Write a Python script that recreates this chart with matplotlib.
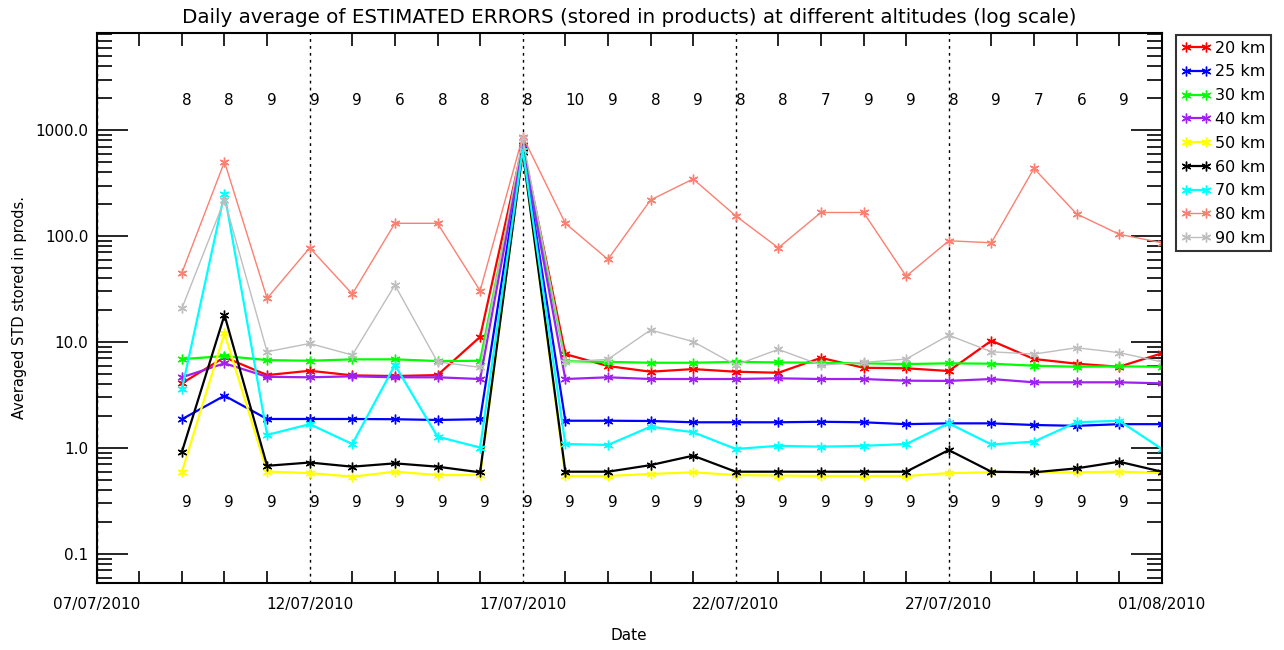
import datetime as dt
import numpy as np
import matplotlib
matplotlib.use('Agg')
import matplotlib.pyplot as plt
import matplotlib.dates as mdates
import matplotlib.ticker as mticker
import matplotlib.transforms as mtransforms

# daily points, 09/07/2010 .. 01/08/2010
dates = [dt.datetime(2010, 7, 9) + dt.timedelta(days=i) for i in range(24)]

km20 = [4.08, 7.2, 4.88, 5.36, 4.85, 4.78, 4.88, 11.2, 720, 7.7, 5.94, 5.25,
        5.56, 5.25, 5.13, 7.1, 5.72, 5.66, 5.33, 10.3, 6.92, 6.25, 5.85, 7.82]
km25 = [1.87, 3.12, 1.88, 1.88, 1.88, 1.87, 1.84, 1.87, 680, 1.81, 1.81, 1.8,
        1.75, 1.75, 1.75, 1.77, 1.75, 1.68, 1.71, 1.71, 1.65, 1.62, 1.68, 1.68]
km30 = [6.9, 7.38, 6.76, 6.66, 6.87, 6.87, 6.62, 6.66, 700, 6.6, 6.5, 6.38,
        6.38, 6.5, 6.42, 6.38, 6.3, 6.2, 6.3, 6.25, 5.98, 5.85, 5.9, 5.85]
km40 = [4.65, 6.3, 4.7, 4.65, 4.75, 4.65, 4.65, 4.48, 690, 4.48, 4.65, 4.48,
        4.48, 4.48, 4.55, 4.48, 4.48, 4.32, 4.3, 4.48, 4.17, 4.17, 4.17, 4.08]
km50 = [0.594, 12.1, 0.60, 0.58, 0.537, 0.598, 0.556, 0.556, 640, 0.545, 0.545, 0.569,
        0.59, 0.556, 0.55, 0.545, 0.545, 0.545, 0.58, 0.59, 0.59, 0.59, 0.6, 0.58]
km60 = [0.92, 18.0, 0.68, 0.73, 0.667, 0.717, 0.667, 0.59, 620, 0.598, 0.598, 0.69,
        0.847, 0.598, 0.598, 0.598, 0.598, 0.598, 0.957, 0.598, 0.59, 0.643, 0.743, 0.598]
km70 = [3.58, 252, 1.33, 1.68, 1.09, 6.07, 1.28, 1.01, 650, 1.09, 1.07, 1.59,
        1.41, 0.98, 1.05, 1.03, 1.05, 1.09, 1.71, 1.08, 1.15, 1.75, 1.81, 0.98]
km80 = [45, 503, 25.8, 77.5, 28.4, 132, 132, 30.5, 870, 132, 60.3, 219,
        346, 155, 77.5, 167, 167, 41.8, 90.3, 86.5, 435, 162, 104, 86.5]
km90 = [20.8, 219, 8.1, 9.7, 7.54, 34.5, 6.5, 5.77, 840, 6.5, 6.87, 13.0,
        10.1, 6.07, 8.53, 6.07, 6.42, 6.92, 11.6, 8.1, 7.7, 8.84, 7.94, 6.5]

# number of profiles per day (09/07 .. 31/07)
count_top = [8, 8, 9, 9, 9, 6, 8, 8, 8, 10, 9, 8, 9, 8, 8, 7, 9, 9, 8, 9, 7, 6, 9]
count_bot = [9] * 23

series = [('20 km', km20, '#ff0000', 1.6),
          ('25 km', km25, '#0000ff', 1.6),
          ('30 km', km30, '#00ff00', 1.6),
          ('40 km', km40, '#a020f0', 1.6),
          ('50 km', km50, '#ffff00', 1.6),
          ('60 km', km60, '#000000', 1.6),
          ('70 km', km70, '#00ffff', 1.6),
          ('80 km', km80, '#fa8072', 1.0),
          ('90 km', km90, '#bebebe', 1.0)]

fig = plt.figure(figsize=(12.84, 6.5), dpi=100)
ax = fig.add_axes([0.0753, 0.1035, 0.8295, 0.8462])

for name, vals, col, lw in series:
    ax.plot(dates, vals, color=col, lw=lw, marker=(6, 2, 0), ms=7, mew=1.0,
            label=name)

ax.set_yscale('log')
ax.set_ylim(0.0536, 8300)
ax.set_xlim(dt.datetime(2010, 7, 7), dt.datetime(2010, 8, 1))

# counts printed above / below the curves
trans = mtransforms.blended_transform_factory(ax.transData, ax.transAxes)
for d, c in zip(dates[:-1], count_top):
    ax.text(d, 0.876, str(c), transform=trans, ha='left', va='center', fontsize=11)
for d, c in zip(dates[:-1], count_bot):
    ax.text(d, 0.145, str(c), transform=trans, ha='left', va='center', fontsize=11)

# x axis: label every 5 days with dotted vertical lines, minor tick each day
ax.xaxis.set_major_locator(mdates.DayLocator(bymonthday=[1, 7, 12, 17, 22, 27]))
ax.xaxis.set_major_formatter(mdates.DateFormatter('%d/%m/%Y'))
ax.xaxis.set_minor_locator(mdates.DayLocator())
ax.grid(True, axis='x', which='major', color='black', linestyle=(0, (2, 3)), lw=1.0)
ax.tick_params(axis='x', which='major', length=0, pad=10, labelsize=11)
ax.tick_params(axis='x', which='minor', direction='in', length=9, width=1.2,
               top=True, bottom=True)

ax.yaxis.set_major_formatter(mticker.FormatStrFormatter('%.1f'))
ax.yaxis.set_minor_locator(mticker.LogLocator(base=10, subs=np.arange(2, 10)))
ax.yaxis.set_minor_formatter(mticker.NullFormatter())
ax.tick_params(axis='y', which='major', direction='in', length=22, width=1.2,
               left=True, right=True, pad=6, labelsize=11)
ax.tick_params(axis='y', which='minor', direction='in', length=11, width=1.2,
               left=True, right=True)

for sp in ax.spines.values():
    sp.set_linewidth(1.5)

ax.set_title('Daily average of ESTIMATED ERRORS (stored in products) at different altitudes (log scale)',
             fontsize=14.3, pad=7)
ax.set_xlabel('Date', fontsize=11, labelpad=12)
ax.set_ylabel('Averaged STD stored in prods.', fontsize=10.5, labelpad=6)

leg = ax.legend(loc='upper left', bbox_to_anchor=(1176 / 1284, 1 - 35 / 650),
                bbox_transform=fig.transFigure, numpoints=2, fontsize=11.5,
                frameon=True, fancybox=False, borderpad=0.35, labelspacing=0.55,
                handlelength=1.8, handletextpad=0.3, borderaxespad=0)
leg.get_frame().set_edgecolor('black')
leg.get_frame().set_linewidth(1.5)

fig.savefig('out.png', dpi=100)
